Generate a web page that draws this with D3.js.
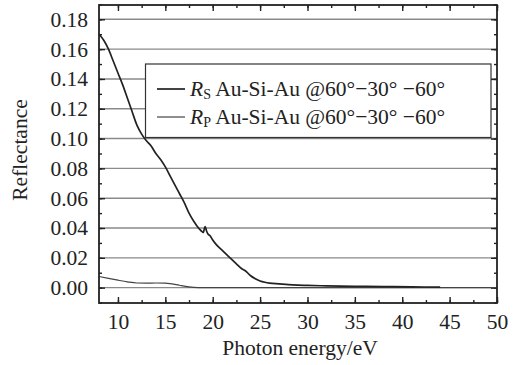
<!DOCTYPE html>
<html><head><meta charset="utf-8">
<script src="https://cdn.jsdelivr.net/npm/d3@7"></script>
<style>body{margin:0;background:#fff}svg{display:block}text{font-family:"Liberation Serif","Times New Roman",serif;fill:#222}</style>
</head><body>
<svg id="c" width="522" height="365"></svg>
<script>
const xTicks = [10,15,20,25,30,35,40,45,50];
const yTicks = [0.00,0.02,0.04,0.06,0.08,0.10,0.12,0.14,0.16,0.18];
const rsEnergy = [8,8.5,9,9.5,10,10.5,11,11.5,12,12.5,13,13.5,14,14.5,15,15.5,16,16.5,17,17.5,18,18.5,18.8,19.0,19.2,19.35,19.5,19.7,20,20.5,21,21.5,22,22.5,23,23.5,24,24.5,25,25.5,26,27,28,29,30,32,35,38,41,44];
const rsValue  = [0.170,0.166,0.160,0.152,0.144,0.136,0.127,0.118,0.109,0.103,0.0985,0.095,0.090,0.086,0.081,0.075,0.069,0.063,0.057,0.050,0.0445,0.040,0.038,0.037,0.041,0.038,0.036,0.035,0.032,0.028,0.025,0.022,0.019,0.016,0.013,0.011,0.008,0.006,0.0045,0.0036,0.003,0.0025,0.002,0.0017,0.0015,0.0012,0.0009,0.0007,0.0005,0.0004];
const rpEnergy = [8,9,10,11,12,13,14,15,15.5,16,16.5,17,17.5,18,19,20,25,30,40,50];
const rpValue  = [0.0075,0.0062,0.005,0.0039,0.0031,0.003,0.0031,0.003,0.0027,0.0022,0.0016,0.0010,0.0005,0.0002,0.0,0.0,0.0,0.0,0.0,0.0];
const legendLabels = ["S","P"];
const legendRest = " Au-Si-Au @60°−30° −60°";

const svg = d3.select("#c");
const L=99,R=497,T=5,B=303;
const FS = "21.5px";
const x = d3.scaleLinear().domain([8,50]).range([L,R]);
const y = d3.scaleLinear().domain([-0.0103,0.1896]).range([B,T]);

// grid
svg.append("g").selectAll("line").data(yTicks).join("line")
  .attr("x1",L).attr("x2",R).attr("y1",d=>y(d)).attr("y2",d=>y(d))
  .attr("stroke","#8a8a8a").attr("stroke-width",1.4);

const xMinor = d3.range(7.5,50.01,2.5).filter(v=>v>=8);
const yMinor = d3.range(-0.01,0.1901,0.01);

// axes with inward ticks
const axB = d3.axisBottom(x).tickValues(xTicks).tickSizeInner(-6).tickSizeOuter(0).tickPadding(11).tickFormat(d3.format("d"));
const gB = svg.append("g").attr("transform",`translate(0,${B})`).call(axB);
const axL = d3.axisLeft(y).tickValues(yTicks).tickSizeInner(-6).tickSizeOuter(0).tickPadding(11).tickFormat(d3.format(".2f"));
const gL = svg.append("g").attr("transform",`translate(${L},0)`).call(axL);
const axT = d3.axisTop(x).tickValues(xTicks).tickSizeInner(-6).tickSizeOuter(0).tickFormat("");
svg.append("g").attr("transform",`translate(0,${T})`).call(axT);
const axR = d3.axisRight(y).tickValues(yTicks).tickSizeInner(-6).tickSizeOuter(0).tickFormat("");
svg.append("g").attr("transform",`translate(${R},0)`).call(axR);
// minor ticks
svg.append("g").call(d3.axisBottom(x).tickValues(xMinor).tickSize(-3).tickFormat("")).attr("transform",`translate(0,${B})`);
svg.append("g").call(d3.axisTop(x).tickValues(xMinor).tickSize(-3).tickFormat("")).attr("transform",`translate(0,${T})`);
svg.append("g").call(d3.axisLeft(y).tickValues(yMinor).tickSize(-3).tickFormat("")).attr("transform",`translate(${L},0)`);
svg.append("g").call(d3.axisRight(y).tickValues(yMinor).tickSize(-3).tickFormat("")).attr("transform",`translate(${R},0)`);
svg.selectAll(".domain").remove();
svg.selectAll(".tick line").attr("stroke","#222").attr("stroke-width",1.4);
svg.selectAll(".tick text").style("font-size",FS).style("font-family","Liberation Serif").attr("fill","#222");
gB.selectAll(".tick text").attr("dy","0.71em");

// curves
const line = d3.line().x(d=>x(d[0])).y(d=>y(d[1])).curve(d3.curveMonotoneX);
svg.append("path").datum(rpEnergy.map((e,i)=>[e,rpValue[i]])).attr("d",line)
  .attr("fill","none").attr("stroke","#444").attr("stroke-width",1.2);
svg.append("path").datum(rsEnergy.map((e,i)=>[e,rsValue[i]])).attr("d",line)
  .attr("fill","none").attr("stroke","#222").attr("stroke-width",1.7);

// legend
const lg = svg.append("g");
lg.append("rect").attr("x",145.5).attr("y",64).attr("width",345.5).attr("height",73.5)
  .attr("fill","#fff").attr("stroke","#333").attr("stroke-width",1.2);
legendLabels.forEach((s,i)=>{
  const yy = 89 + i*28;
  lg.append("line").attr("x1",157).attr("x2",185).attr("y1",yy).attr("y2",yy)
    .attr("stroke",i===0?"#222":"#444").attr("stroke-width",i===0?1.7:1.2);
  const t = lg.append("text").attr("x",190).attr("y",yy+7).style("font-size",FS);
  t.append("tspan").attr("font-style","italic").text("R");
  t.append("tspan").attr("font-size","14px").attr("dy",3).text(s);
  t.append("tspan").attr("dy",-3).text(legendRest);
});

// frame
svg.append("rect").attr("x",L).attr("y",T).attr("width",R-L).attr("height",B-T)
  .attr("fill","none").attr("stroke","#222").attr("stroke-width",1.8);

// axis titles
svg.append("text").attr("x",(L+R)/2+2).attr("y",355).attr("text-anchor","middle").style("font-size",FS).text("Photon energy/eV");
svg.append("text").attr("transform","translate(27,150) rotate(-90)").attr("text-anchor","middle").style("font-size",FS).text("Reflectance");
</script>
</body></html>
